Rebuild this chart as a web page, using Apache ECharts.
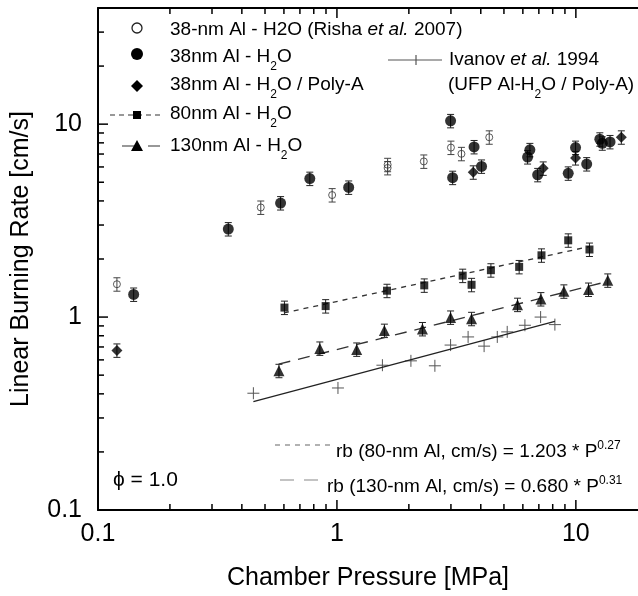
<!DOCTYPE html>
<html>
<head>
<meta charset="utf-8">
<script src="https://cdn.jsdelivr.net/npm/echarts@6/dist/echarts.min.js"></script>
<style>
html, body { margin: 0; padding: 0; background: #fff; }
#chart { width: 638px; height: 596px; }
</style>
</head>
<body>
<div id="chart"></div>
<script>
// 38-nm Al - H2O (Risha et al. 2007), open circles
const rishaX = [0.12, 0.48, 0.955, 1.63, 1.63, 2.31, 3.0, 3.32, 4.34];
const rishaY = [1.48, 3.70, 4.29, 6.16, 5.93, 6.41, 7.56, 7.02, 8.55];
// 38nm Al - H2O, filled circles
const al38X = [0.141, 0.351, 0.581, 0.77, 1.12, 2.99, 3.05, 3.75, 4.03, 6.28, 6.42, 6.92, 9.29, 9.97, 11.1, 12.6, 12.9, 13.9];
const al38Y = [1.31, 2.86, 3.90, 5.22, 4.70, 10.4, 5.28, 7.62, 6.04, 6.75, 7.36, 5.46, 5.56, 7.56, 6.21, 8.35, 7.96, 8.09];
// 38nm Al - H2O / Poly-A, diamonds
const polyX = [0.12, 3.72, 7.30, 9.97, 15.5];
const polyY = [0.672, 5.63, 5.90, 6.67, 8.55];
// 80nm Al - H2O, squares
const al80X = [0.603, 0.897, 1.62, 2.32, 3.36, 3.66, 4.41, 5.79, 7.18, 9.29, 11.4];
const al80Y = [1.12, 1.14, 1.37, 1.46, 1.64, 1.47, 1.75, 1.82, 2.09, 2.50, 2.24];
// 130nm Al - H2O, triangles
const al130X = [0.572, 0.848, 1.21, 1.58, 2.28, 2.99, 3.66, 5.70, 7.14, 8.91, 11.3, 13.6];
const al130Y = [0.527, 0.688, 0.680, 0.851, 0.868, 0.996, 0.980, 1.16, 1.24, 1.36, 1.39, 1.55];
// Ivanov et al. 1994, crosses
const ivanovX = [0.447, 1.01, 1.55, 2.04, 2.57, 2.99, 3.54, 4.13, 4.69, 5.16, 6.12, 7.12, 8.17];
const ivanovY = [0.403, 0.429, 0.563, 0.593, 0.559, 0.716, 0.789, 0.707, 0.789, 0.838, 0.907, 1.00, 0.914];
// fit lines (end points)
const fit80X = [0.6, 11.4];
const fit80Y = [1.05, 2.32];
const fit130X = [0.57, 13.6];
const fit130Y = [0.57, 1.53];
const fitIvanovX = [0.447, 8.17];
const fitIvanovY = [0.365, 0.95];

// axes
const xMajor = [0.1, 1, 10];
const xMinor = [0.2, 0.3, 0.4, 0.5, 0.6, 0.7, 0.8, 0.9, 2, 3, 4, 5, 6, 7, 8, 9];
const yMajor = [0.1, 1, 10];
const yMinor = [0.2, 0.3, 0.4, 0.5, 0.6, 0.7, 0.8, 0.9, 2, 3, 4, 5, 6, 7, 8, 9, 20, 30, 40];
const tickLabels = ['0.1', '1', '10'];
const ERR = 0.08; // relative error bar

const FONT = '"Liberation Sans", Arial, sans-serif';
const pairs = (xs, ys) => xs.map((x, i) => [x, ys[i]]);

const chart = echarts.init(document.getElementById('chart'));

const errRender = (color) => (params, api) => {
    const x = api.value(0);
    const y = api.value(1);
    const top = api.coord([x, y * (1 + ERR)]);
    const bot = api.coord([x, y * (1 - ERR)]);
    const w = 3.5;
    const st = { stroke: color, lineWidth: 1 };
    return {
        type: 'group',
        children: [
            { type: 'line', shape: { x1: top[0], y1: top[1], x2: bot[0], y2: bot[1] }, style: st },
            { type: 'line', shape: { x1: top[0] - w, y1: top[1], x2: top[0] + w, y2: top[1] }, style: st },
            { type: 'line', shape: { x1: bot[0] - w, y1: bot[1], x2: bot[0] + w, y2: bot[1] }, style: st },
        ],
    };
};

const errSeries = (xs, ys, color) => ({
    type: 'custom',
    renderItem: errRender(color),
    data: pairs(xs, ys),
    encode: { x: 0, y: 1 },
    z: 2,
    silent: true,
});

const crossRender = (params, api) => {
    const p = api.coord([api.value(0), api.value(1)]);
    const st = { stroke: '#555', lineWidth: 1 };
    return {
        type: 'group',
        children: [
            { type: 'line', shape: { x1: p[0] - 6, y1: p[1], x2: p[0] + 6, y2: p[1] }, style: st },
            { type: 'line', shape: { x1: p[0], y1: p[1] - 6, x2: p[0], y2: p[1] + 6 }, style: st },
        ],
    };
};

// kind: 0 x major, 1 x minor, 2 y major, 3 y minor
const tickData = [
    ...xMajor.map((v) => [v, 1, 0]),
    ...xMinor.map((v) => [v, 1, 1]),
    ...yMajor.map((v) => [1, v, 2]),
    ...yMinor.map((v) => [1, v, 3]),
];
const tickRender = (params, api) => {
    const cs = params.coordSys;
    const kind = api.value(2);
    const len = kind % 2 === 0 ? 10 : 6;
    const st = { stroke: '#000', lineWidth: 1.5 };
    if (kind < 2) {
        const px = api.coord([api.value(0), 1])[0];
        const b = cs.y + cs.height;
        return {
            type: 'group',
            children: [
                { type: 'line', shape: { x1: px, y1: b, x2: px, y2: b - len }, style: st },
                { type: 'line', shape: { x1: px, y1: cs.y, x2: px, y2: cs.y + len }, style: st },
            ],
        };
    }
    const py = api.coord([1, api.value(1)])[1];
    return { type: 'line', shape: { x1: cs.x, y1: py, x2: cs.x + len, y2: py }, style: st };
};

const labelFmt = (v) => {
    const i = xMajor.findIndex((m) => Math.abs(m - v) / m < 1e-6);
    return i >= 0 ? tickLabels[i] : '';
};

const rich = {
    sub: { fontSize: 12, lineHeight: 12, padding: [20, 0, 0, 0], fontFamily: FONT, fill: '#000' },
    sup: { fontSize: 12, lineHeight: 12, padding: [0, 0, 13, 0], fontFamily: FONT, fill: '#000' },
    it: { fontStyle: 'italic', fontSize: 19, fontFamily: FONT, fill: '#000' },
};
const label = (x, y, text, size) => ({
    type: 'text',
    x,
    y,
    silent: true,
    style: {
        text,
        fontSize: size || 19,
        fontFamily: FONT,
        fill: '#000',
        verticalAlign: 'middle',
        rich,
    },
});
const seg = (x1, y1, x2, y2, dash, color) => ({
    type: 'line',
    silent: true,
    shape: { x1, y1, x2, y2 },
    style: { stroke: color || '#333', lineWidth: 1.2, lineDash: dash || null },
});

const legendGraphics = [
    { type: 'circle', shape: { cx: 137, cy: 28, r: 5 }, style: { fill: 'none', stroke: '#222', lineWidth: 1.3 } },
    label(170, 30, '38-nm Al - H2O (Risha {it|et al.} 2007)'),
    { type: 'circle', shape: { cx: 137, cy: 54, r: 6 }, style: { fill: '#000' } },
    label(170, 57, '38nm Al - H{sub|2}O'),
    { type: 'polygon', shape: { points: [[137, 80], [143, 86], [137, 92], [131, 86]] }, style: { fill: '#000' } },
    label(170, 85, '38nm Al - H{sub|2}O / Poly-A'),
    seg(110, 115, 163, 115, [5, 4]),
    { type: 'rect', shape: { x: 133, y: 111, width: 8, height: 8 }, style: { fill: '#000' } },
    label(170, 114, '80nm Al - H{sub|2}O'),
    seg(122, 146, 160, 146, [12, 14]),
    { type: 'polygon', shape: { points: [[137, 140], [143, 151], [131, 151]] }, style: { fill: '#000' } },
    label(170, 146, '130nm Al - H{sub|2}O'),
    seg(388, 60, 442, 60, null, '#555'),
    seg(416, 55, 416, 65, null, '#555'),
    label(449, 60, 'Ivanov {it|et al.} 1994'),
    label(448, 85, '(UFP Al-H{sub|2}O / Poly-A)'),
    seg(275, 445, 332, 445, [5, 5], '#666'),
    label(336, 452, 'rb (80-nm Al, cm/s) = 1.203 * P{sup|0.27}'),
    seg(280, 480, 318, 480, [14, 10], '#888'),
    label(327, 487, 'rb (130-nm Al, cm/s) = 0.680 * P{sup|0.31}'),
    label(113, 480, 'ϕ = 1.0', 21),
];

const option = {
    animation: false,
    backgroundColor: '#fff',
    grid: { left: 98, right: 0, top: 8, bottom: 83, containLabel: false },
    xAxis: [
        {
            type: 'log',
            min: 0.1,
            max: 18.2,
            name: 'Chamber Pressure [MPa]',
            nameLocation: 'middle',
            nameGap: 56,
            nameTextStyle: { fontSize: 25, fontFamily: FONT, color: '#000' },
            axisLine: { lineStyle: { color: '#000', width: 2 } },
            axisTick: { show: false },
            splitLine: { show: false },
            axisLabel: { formatter: labelFmt, fontSize: 25, fontFamily: FONT, color: '#000', margin: 12, showMaxLabel: false },
        },
        {
            type: 'log',
            min: 0.1,
            max: 18.2,
            position: 'top',
            axisLine: { lineStyle: { color: '#000', width: 2 } },
            axisTick: { show: false },
            axisLabel: { show: false },
            splitLine: { show: false },
        },
    ],
    yAxis: {
        type: 'log',
        min: 0.1,
        max: 40,
        name: 'Linear Burning Rate [cm/s]',
        nameLocation: 'middle',
        nameGap: 64,
        nameTextStyle: { fontSize: 25, fontFamily: FONT, color: '#000' },
        axisLine: { lineStyle: { color: '#000', width: 2 } },
        axisTick: { show: false },
        splitLine: { show: false },
        axisLabel: { formatter: labelFmt, fontSize: 25, fontFamily: FONT, color: '#000', margin: 16, showMaxLabel: false },
    },
    graphic: legendGraphics,
    series: [
        {
            type: 'custom',
            renderItem: tickRender,
            data: tickData,
            encode: { x: 0, y: 1 },
            silent: true,
            z: 5,
        },
        {
            type: 'line',
            data: pairs(fit80X, fit80Y),
            showSymbol: false,
            lineStyle: { color: '#333', width: 1.3, type: [5, 5] },
            silent: true,
        },
        {
            type: 'line',
            data: pairs(fit130X, fit130Y),
            showSymbol: false,
            lineStyle: { color: '#333', width: 1.3, type: [12, 8] },
            silent: true,
        },
        {
            type: 'line',
            data: pairs(fitIvanovX, fitIvanovY),
            showSymbol: false,
            lineStyle: { color: '#222', width: 1.3 },
            silent: true,
        },
        {
            type: 'custom',
            renderItem: crossRender,
            data: pairs(ivanovX, ivanovY),
            encode: { x: 0, y: 1 },
            silent: true,
        },
        errSeries(rishaX, rishaY, '#444'),
        errSeries(al38X, al38Y, '#222'),
        errSeries(polyX, polyY, '#222'),
        errSeries(al80X, al80Y, '#222'),
        errSeries(al130X, al130Y, '#222'),
        {
            type: 'scatter',
            data: pairs(rishaX, rishaY),
            symbol: 'circle',
            symbolSize: 7,
            itemStyle: { color: 'rgba(0,0,0,0)', borderColor: '#333', borderWidth: 1 },
            z: 3,
        },
        {
            type: 'scatter',
            data: pairs(al38X, al38Y),
            symbol: 'circle',
            symbolSize: 11,
            itemStyle: { color: '#000' },
            z: 3,
        },
        {
            type: 'scatter',
            data: pairs(polyX, polyY),
            symbol: 'diamond',
            symbolSize: [11, 11],
            itemStyle: { color: '#000' },
            z: 3,
        },
        {
            type: 'scatter',
            data: pairs(al80X, al80Y),
            symbol: 'rect',
            symbolSize: 8,
            itemStyle: { color: '#000' },
            z: 3,
        },
        {
            type: 'scatter',
            data: pairs(al130X, al130Y),
            symbol: 'triangle',
            symbolSize: 11,
            itemStyle: { color: '#000' },
            z: 3,
        },
    ],
};

chart.setOption(option);
</script>
</body>
</html>
